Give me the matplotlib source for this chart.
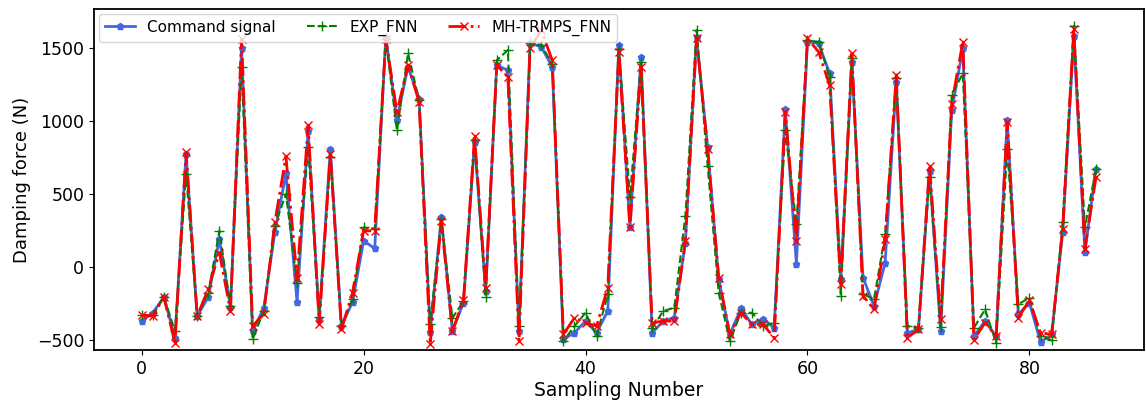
import numpy as np
import matplotlib
matplotlib.use('Agg')
import matplotlib.pyplot as plt


command = [-371, -314, -206, -485, 775, -337, -206, 192, -275, 1495,
           -440, -282, 236, 641, -240, 927, -355, 808, -405, -240,
           179, 126, 1575, 1008, 1369, 1152, -444, 339, -440, -245,
           854, -165, 1381, 1346, -440, 1530, 1507, 1369, -496, -451,
           -371, -451, -302, 1518, 270, 1434, -451, -371, -348, 167,
           1575, 820, -85, -462, -284, -394, -355, -417, 1083, 23,
           1541, 1530, 1324, -85, 1404, -73, -268, 30, 1266, -451,
           -428, 659, -440, 1072, 1495, -474, -371, -474, 1003, -325,
           -245, -515, -462, 238, 1580, 101, 671]

exp_fnn = [-330, -330, -206, -440, 638, -337, -180, 247, -270, 1369,
           -495, -300, 282, 500, -107, 820, -345, 751, -405, -220,
           270, 260, 1560, 934, 1461, 1140, -392, 325, -350, -235,
           870, -206, 1415, 1484, -405, 1530, 1520, 1390, -508, -405,
           -314, -474, -186, 1490, 476, 1400, -420, -302, -279, 350,
           1621, 694, -176, -508, -314, -314, -405, -383, 934, 293,
           1550, 1541, 1300, -199, 1430, -186, -222, 225, 1290, -405,
           -415, 614, -410, 1175, 1324, -417, -291, -520, 808, -256,
           -211, -474, -503, 305, 1651, 270, 671]

mh_trmps_fnn = [-330, -337, -206, -520, 785, -337, -151, 98, -302, 1560,
                -405, -320, 305, 756, -73, 969, -392, 774, -427, -176,
                247, 247, 1560, 1060, 1381, 1129, -530, 316, -440, -227,
                893, -142, 1381, 1300, -508, 1495, 1620, 1415, -462, -348,
                -383, -405, -142, 1472, 270, 1369, -383, -371, -371, 179,
                1564, 808, -73, -462, -314, -394, -394, -485, 1060, 179,
                1564, 1472, 1243, -119, 1461, -199, -291, 190, 1312, -485,
                -428, 694, -360, 1118, 1541, -497, -383, -474, 991, -348,
                -229, -451, -462, 261, 1626, 124, 614]

x = np.arange(len(command))

fig = plt.figure(figsize=(11.46, 4.11), dpi=100)
ax = fig.add_axes([0.082, 0.148, 0.916, 0.830])

ax.plot(x, command, color='royalblue', marker='p', markersize=5, linewidth=2,
        label='Command signal')
ax.plot(x, exp_fnn, color='green', linestyle='--', marker='+', markersize=7,
        linewidth=1.5, label='EXP_FNN')
ax.plot(x, mh_trmps_fnn, color='red', linestyle='-.', marker='x', markersize=6,
        linewidth=2, label='MH-TRMPS_FNN')

ax.set_xlim(-4.3, 90.3)
ax.set_ylim(-570, 1765)
ax.set_xticks([0, 20, 40, 60, 80])
ax.set_yticks([-500, 0, 500, 1000, 1500])
ax.tick_params(labelsize=12.5)
ax.set_xlabel('Sampling Number', fontsize=13.5, labelpad=2)
ax.set_ylabel('Damping force (N)', fontsize=13)
for s in ax.spines.values():
    s.set_linewidth(1.3)

ax.legend(loc='upper left', ncol=3, fontsize=11, borderaxespad=0.3,
          columnspacing=2.0)

fig.savefig('out.png', dpi=100)
